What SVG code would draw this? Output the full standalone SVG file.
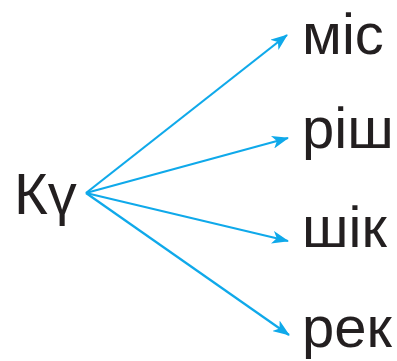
<svg xmlns="http://www.w3.org/2000/svg" width="397" height="361" viewBox="0 0 397 361">
<style>
text{font-family:"Liberation Sans",Arial,sans-serif;font-size:58px;fill:#231f20}
.c line{stroke:#0fa9ea;stroke-width:2.2}
</style>
<defs>
<marker id="a" markerWidth="17" markerHeight="13" refX="16" refY="6.5" orient="auto" markerUnits="userSpaceOnUse">
<path d="M0,0 L17,6.5 L0,13 L4.5,6.5 Z" fill="#0fa9ea"/>
</marker>
</defs>
<rect width="397" height="361" fill="#fff"/>
<g id="src"><text x="14" y="214">Кү</text></g>
<g id="n1"><text x="302" y="54">міс</text></g>
<g id="n2"><text x="302" y="148">ріш</text></g>
<g id="n3"><text x="302" y="247">шік</text></g>
<g id="n4"><text x="302" y="347">рек</text></g>
<g class="c" id="connectors">
<line x1="86" y1="193" x2="287" y2="35" marker-end="url(#a)"/>
<line x1="86" y1="193" x2="288" y2="138" marker-end="url(#a)"/>
<line x1="86" y1="193" x2="288" y2="241" marker-end="url(#a)"/>
<line x1="86" y1="193" x2="289" y2="335" marker-end="url(#a)"/>
</g>
</svg>
